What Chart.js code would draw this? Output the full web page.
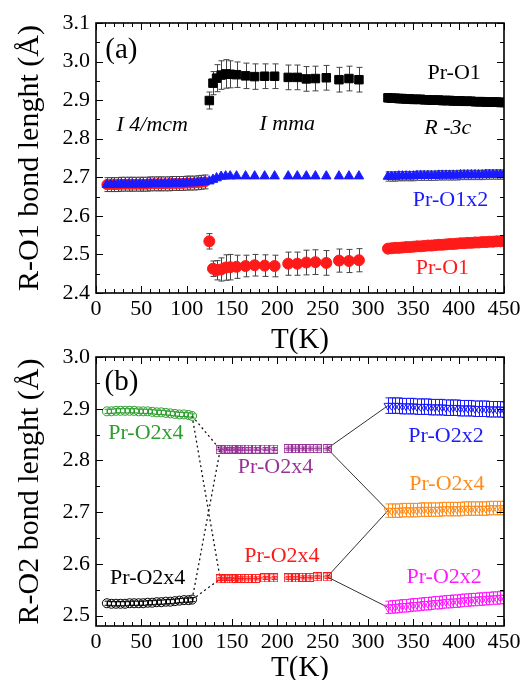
<!DOCTYPE html>
<html>
<head>
<meta charset="utf-8">
<script src="https://cdn.jsdelivr.net/npm/chart.js@4.4.0/dist/chart.umd.min.js"></script>
<style>
  html, body { margin: 0; padding: 0; background: #fff; }
  #wrap { position: relative; width: 526px; height: 680px; overflow: hidden; }
  .panel { position: absolute; left: 0; width: 526px; }
  #panelA { top: 0; height: 357px; }
  #panelB { top: 326px; height: 359px; }
</style>
</head>
<body>
<div id="wrap">
  <div class="panel" id="panelA"><canvas id="chartA"></canvas></div>
  <div class="panel" id="panelB"><canvas id="chartB"></canvas></div>
</div>
<script>
// ---- Tick labels ----
const xTicks = [0, 50, 100, 150, 200, 250, 300, 350, 400, 450];
const yTicksA = [2.4, 2.5, 2.6, 2.7, 2.8, 2.9, 3.0, 3.1];
const yTicksB = [2.5, 2.6, 2.7, 2.8, 2.9, 3.0];

// ---- Panel (a): R-O1 ----
// I4/mcm region (all three bonds coincide)
const tA_low = [12, 16, 20, 24, 28, 32, 36, 40, 44, 48, 52, 56, 60, 64, 68, 72, 76, 80, 84, 88, 92, 96, 100, 104, 108, 112, 116, 120];
const a_low = [2.681, 2.681, 2.681, 2.681, 2.682, 2.682, 2.682, 2.682, 2.682, 2.682, 2.682, 2.682, 2.683, 2.683,
               2.683, 2.683, 2.683, 2.683, 2.684, 2.684, 2.684, 2.684, 2.685, 2.685, 2.685, 2.686, 2.687, 2.688];
const a_low_err = 0.018;

// Imma region
const tA_mid = [125, 129, 133, 138, 143, 148, 155, 165, 175, 186, 197, 212, 222, 232, 242, 254, 268, 279, 290];
const a_black_mid = [2.899, 2.944, 2.957, 2.965, 2.968, 2.967, 2.966, 2.963, 2.961, 2.962, 2.962, 2.959, 2.959, 2.955, 2.956, 2.958, 2.953, 2.956, 2.953];
const a_black_mid_err = [0.022, 0.03, 0.035, 0.037, 0.037, 0.035, 0.033, 0.033, 0.033, 0.032, 0.032, 0.032, 0.032, 0.032, 0.032, 0.032, 0.032, 0.032, 0.032];
const a_red_mid = [2.534, 2.463, 2.459, 2.461, 2.466, 2.467, 2.468, 2.470, 2.472, 2.471, 2.470, 2.476, 2.476, 2.479, 2.480, 2.478, 2.484, 2.483, 2.485];
const a_red_mid_err = [0.02, 0.02, 0.025, 0.03, 0.033, 0.033, 0.03, 0.028, 0.028, 0.028, 0.028, 0.03, 0.03, 0.032, 0.032, 0.032, 0.03, 0.03, 0.03];
const a_blue_mid = [2.690, 2.694, 2.698, 2.702, 2.703, 2.703, 2.703, 2.703, 2.703, 2.703, 2.703, 2.703, 2.703, 2.703, 2.703, 2.703, 2.703, 2.703, 2.703];

// R-3c region
const tR = [322, 326, 330, 334, 338, 342, 346, 350, 354, 358, 362, 366, 370, 374, 378, 382, 386,
            390, 394, 398, 402, 406, 410, 414, 418, 422, 426, 430, 434, 438, 442, 446, 450];
const a_black_hi = [2.906, 2.905, 2.905, 2.904, 2.904, 2.903, 2.903, 2.902, 2.902, 2.902, 2.901, 2.901, 2.900, 2.900, 2.900, 2.899, 2.899,
                    2.899, 2.898, 2.898, 2.898, 2.897, 2.897, 2.897, 2.896, 2.896, 2.896, 2.895, 2.895, 2.895, 2.895, 2.894, 2.894];
const a_blue_hi = [2.702, 2.702, 2.702, 2.703, 2.703, 2.703, 2.703, 2.703, 2.704, 2.704, 2.704, 2.704, 2.704, 2.704, 2.705, 2.705, 2.705,
                   2.705, 2.705, 2.705, 2.706, 2.706, 2.706, 2.706, 2.706, 2.706, 2.706, 2.707, 2.707, 2.707, 2.707, 2.707, 2.707];
const a_red_hi = [2.515, 2.516, 2.517, 2.517, 2.518, 2.519, 2.519, 2.520, 2.521, 2.521, 2.522, 2.523, 2.523, 2.524, 2.525, 2.525, 2.526,
                  2.527, 2.527, 2.528, 2.529, 2.529, 2.530, 2.530, 2.531, 2.531, 2.532, 2.532, 2.533, 2.533, 2.534, 2.534, 2.535];

// ---- Panel (b): R-O2 ----
const tB_low = [12, 17, 22, 27, 32, 37, 42, 47, 52, 57, 62, 67, 72, 77, 82, 87, 92, 97, 102, 106];
const b_green = [2.895, 2.895, 2.896, 2.896, 2.896, 2.896, 2.896, 2.895, 2.895, 2.895, 2.894, 2.893, 2.893, 2.892, 2.891, 2.890, 2.889, 2.889, 2.888, 2.886];
const b_black = [2.524, 2.523, 2.523, 2.523, 2.523, 2.524, 2.524, 2.524, 2.524, 2.525, 2.525, 2.526, 2.526, 2.527, 2.527, 2.528, 2.529, 2.530, 2.530, 2.531];

const tB_mid = [137, 143, 149, 155, 161, 168, 176, 186, 196, 212, 220, 228, 236, 244, 255];
const b_purple = [2.821, 2.822, 2.822, 2.822, 2.822, 2.822, 2.822, 2.822, 2.822, 2.823, 2.823, 2.823, 2.823, 2.823, 2.823];
const b_red = [2.571, 2.571, 2.571, 2.572, 2.572, 2.572, 2.572, 2.573, 2.573, 2.573, 2.573, 2.574, 2.574, 2.575, 2.575];

const b_blue = [2.906, 2.906, 2.906, 2.906, 2.905, 2.905, 2.905, 2.905, 2.904, 2.904, 2.904, 2.904, 2.903, 2.903, 2.903, 2.903, 2.902,
                2.902, 2.902, 2.902, 2.901, 2.901, 2.901, 2.901, 2.900, 2.900, 2.900, 2.900, 2.899, 2.899, 2.899, 2.899, 2.898];
const b_orange = [2.703, 2.703, 2.703, 2.703, 2.704, 2.704, 2.704, 2.704, 2.704, 2.705, 2.705, 2.705, 2.705, 2.705, 2.705, 2.706, 2.706,
                  2.706, 2.706, 2.706, 2.706, 2.707, 2.707, 2.707, 2.707, 2.707, 2.707, 2.707, 2.708, 2.708, 2.708, 2.708, 2.708];
const b_magenta = [2.516, 2.517, 2.517, 2.518, 2.519, 2.519, 2.520, 2.521, 2.521, 2.522, 2.523, 2.523, 2.524, 2.525, 2.525, 2.526, 2.527,
                   2.527, 2.528, 2.528, 2.529, 2.530, 2.530, 2.531, 2.531, 2.532, 2.532, 2.533, 2.533, 2.534, 2.534, 2.535, 2.535];

// phase-transition guide lines [T, value] -> [T, value]
const bDottedLinks = [
  [[106, 2.886], [137, 2.821]], [[106, 2.886], [137, 2.571]],
  [[106, 2.531], [137, 2.821]], [[106, 2.531], [137, 2.571]]
];
const bSolidLinks = [
  [[255, 2.823], [322, 2.906]], [[255, 2.823], [322, 2.703]],
  [[255, 2.575], [322, 2.703]], [[255, 2.575], [322, 2.516]]
];

// ---- Styling ----
const SERIF = "'Liberation Serif', 'DejaVu Serif', serif";
const C = {
  black: '#000000', red: '#ff1a1a', blue: '#1a1aff', green: '#2e9e2e',
  purple: '#993399', orange: '#ff8c1a', magenta: '#ff1aff', grey: '#555555'
};

const labelsA = [
  { text: '(a)', x: 28, y: 3.030, color: C.black, size: 29 },
  { text: 'Pr-O1', x: 395, y: 2.970, color: C.black, size: 22 },
  { text: 'I 4/mcm', x: 62, y: 2.836, color: C.black, size: 22, italic: true },
  { text: 'I mma', x: 211, y: 2.838, color: C.black, size: 22, italic: true },
  { text: 'R -3c', x: 388, y: 2.828, color: C.black, size: 22, italic: true },
  { text: 'Pr-O1x2', x: 391, y: 2.641, color: C.blue, size: 22 },
  { text: 'Pr-O1', x: 382, y: 2.465, color: C.red, size: 22 }
];
const labelsB = [
  { text: '(b)', x: 28, y: 2.950, color: C.black, size: 29 },
  { text: 'Pr-O2x4', x: 55, y: 2.853, color: C.green, size: 22 },
  { text: 'Pr-O2x4', x: 57, y: 2.573, color: C.black, size: 22 },
  { text: 'Pr-O2x4', x: 198, y: 2.786, color: C.purple, size: 22 },
  { text: 'Pr-O2x4', x: 205, y: 2.614, color: C.red, size: 22 },
  { text: 'Pr-O2x2', x: 386, y: 2.847, color: C.blue, size: 22 },
  { text: 'Pr-O2x4', x: 387, y: 2.755, color: C.orange, size: 22 },
  { text: 'Pr-O2x2', x: 384, y: 2.575, color: C.magenta, size: 22 }
];

function pts(ts, vs) { return ts.map((t, i) => ({ x: t, y: vs[i] })); }

function boxPlus(color) {
  const c = document.createElement('canvas');
  c.width = 9; c.height = 9;
  const g = c.getContext('2d');
  g.strokeStyle = color; g.lineWidth = 1;
  g.strokeRect(0.5, 0.5, 8, 8);
  g.beginPath();
  g.moveTo(4.5, 0.5); g.lineTo(4.5, 8.5);
  g.moveTo(0.5, 4.5); g.lineTo(8.5, 4.5);
  g.stroke();
  return c;
}

// ---- Plugins ----
const errorBars = {
  id: 'errorBars',
  beforeDatasetsDraw(chart) {
    const { ctx, chartArea: a } = chart;
    const xs = chart.scales.x, ys = chart.scales.y;
    ctx.save();
    ctx.beginPath();
    ctx.rect(a.left, a.top, a.right - a.left, a.bottom - a.top);
    ctx.clip();
    chart.data.datasets.forEach(ds => {
      if (ds.err == null) return;
      ctx.strokeStyle = ds.errColor || '#444';
      ctx.lineWidth = 1;
      ctx.beginPath();
      ds.data.forEach((p, j) => {
        const e = Array.isArray(ds.err) ? ds.err[j] : ds.err;
        const x = Math.round(xs.getPixelForValue(p.x)) + 0.5;
        const y1 = ys.getPixelForValue(p.y - e), y2 = ys.getPixelForValue(p.y + e);
        ctx.moveTo(x, y1); ctx.lineTo(x, y2);
        ctx.moveTo(x - 3, y1); ctx.lineTo(x + 3, y1);
        ctx.moveTo(x - 3, y2); ctx.lineTo(x + 3, y2);
      });
      ctx.stroke();
    });
    ctx.restore();
  }
};

const textLabels = {
  id: 'textLabels',
  afterDatasetsDraw(chart, args, opts) {
    const { ctx } = chart;
    const xs = chart.scales.x, ys = chart.scales.y;
    ctx.save();
    ctx.textAlign = 'center';
    ctx.textBaseline = 'middle';
    (opts.items || []).forEach(l => {
      ctx.font = (l.italic ? 'italic ' : '') + l.size + 'px ' + SERIF;
      ctx.fillStyle = l.color;
      ctx.fillText(l.text, xs.getPixelForValue(l.x), ys.getPixelForValue(l.y));
    });
    ctx.restore();
  }
};

const frame = {
  id: 'frame',
  afterDraw(chart) {
    const { ctx, chartArea: a } = chart;
    const xs = chart.scales.x, ys = chart.scales.y;
    ctx.save();
    ctx.strokeStyle = '#000';
    ctx.lineWidth = 1;
    ctx.beginPath();
    for (let t = xs.min; t <= xs.max + 1e-6; t += 10) {
      const x = Math.round(xs.getPixelForValue(t)) + 0.5;
      const len = (Math.round(t) % 50 === 0) ? 7 : 4;
      ctx.moveTo(x, a.bottom); ctx.lineTo(x, a.bottom - len);
      ctx.moveTo(x, a.top); ctx.lineTo(x, a.top + len);
    }
    const start = Math.ceil(ys.min / 0.05 - 1e-6);
    for (let k = start; k * 0.05 <= ys.max + 1e-6; k++) {
      const y = Math.round(ys.getPixelForValue(k * 0.05)) + 0.5;
      const len = (k % 2 === 0) ? 7 : 4;
      ctx.moveTo(a.left, y); ctx.lineTo(a.left + len, y);
      ctx.moveTo(a.right, y); ctx.lineTo(a.right - len, y);
    }
    ctx.stroke();
    ctx.lineWidth = 1.6;
    ctx.strokeRect(a.left, a.top, a.right - a.left, a.bottom - a.top);
    ctx.restore();
  }
};

function axes(yMin, yMax, yTicks, yTitle, xHeight) {
  return {
    x: {
      type: 'linear', min: 0, max: 450,
      grid: { display: false, drawTicks: false }, border: { display: false },
      ticks: { color: '#000', font: { family: SERIF, size: 22 }, padding: 3, maxRotation: 0, autoSkip: false, callback: v => String(v) },
      afterBuildTicks: s => { s.ticks = xTicks.map(v => ({ value: v })); },
      afterFit: s => { s.height = xHeight; },
      title: { display: true, text: 'T(K)', color: '#000', font: { family: SERIF, size: 29, lineHeight: 1 }, padding: { top: 0, bottom: 2 } }
    },
    y: {
      type: 'linear', min: yMin, max: yMax,
      grid: { display: false, drawTicks: false }, border: { display: false },
      ticks: { color: '#000', font: { family: SERIF, size: 22 }, padding: 6, autoSkip: false, callback: v => v.toFixed(1) },
      afterBuildTicks: s => { s.ticks = yTicks.map(v => ({ value: v })); },
      afterFit: s => { s.width = 96; },
      title: { display: true, text: yTitle, color: '#000', font: { family: SERIF, size: 30, lineHeight: 1.2 }, padding: { top: 12, bottom: 0 } }
    }
  };
}

function baseOptions(padTop, scales, labels) {
  return {
    responsive: true,
    maintainAspectRatio: false,
    animation: false,
    devicePixelRatio: 1,
    layout: { padding: { top: padTop, right: 22, left: 0, bottom: 0 } },
    plugins: { legend: { display: false }, tooltip: { enabled: false }, textLabels: { items: labels } },
    scales
  };
}

function markers(data, style, color, radius, extra) {
  return Object.assign({
    data, pointStyle: style, pointRadius: radius, pointHoverRadius: radius,
    backgroundColor: color, borderColor: color, pointBorderWidth: 1, showLine: false
  }, extra || {});
}

// ---- Chart (a) ----
new Chart(document.getElementById('chartA'), {
  type: 'scatter',
  data: {
    datasets: [
      markers(pts(tA_low, a_low), 'triangle', C.blue, 5.5, { order: 1 }),
      markers(pts(tA_mid, a_blue_mid), 'triangle', C.blue, 5.5, { order: 1 }),
      markers(pts(tR, a_blue_hi), 'triangle', C.blue, 5.5, { order: 1, err: 0.012, errColor: '#555' }),
      markers(pts(tA_low, a_low), 'circle', C.red, 5, { order: 2 }),
      markers(pts(tA_mid, a_red_mid), 'circle', C.red, 5.5, { order: 2, err: a_red_mid_err, errColor: '#444' }),
      markers(pts(tR, a_red_hi), 'circle', C.red, 5.5, { order: 2, err: 0.005, errColor: '#222' }),
      markers(pts(tA_low, a_low), 'rect', C.black, 3, { order: 3, err: a_low_err, errColor: '#444' }),
      markers(pts(tA_mid, a_black_mid), 'rect', C.black, 6, { order: 3, err: a_black_mid_err, errColor: '#444' }),
      markers(pts(tR, a_black_hi), 'rect', C.black, 6, { order: 3, err: 0.011, errColor: '#555' })
    ]
  },
  options: baseOptions(23, axes(2.4, 3.1, yTicksA, 'R-O1 bond lenght (Å)', 64), labelsA),
  plugins: [errorBars, textLabels, frame]
});

// ---- Chart (b) ----
const linkSets = [];
bDottedLinks.forEach(l => linkSets.push({
  data: l.map(p => ({ x: p[0], y: p[1] })), showLine: true, pointRadius: 0, borderColor: '#111',
  borderWidth: 1.3, borderDash: [2, 3], order: 10
}));
bSolidLinks.forEach(l => linkSets.push({
  data: l.map(p => ({ x: p[0], y: p[1] })), showLine: true, pointRadius: 0, borderColor: '#333',
  borderWidth: 1, order: 10
}));

new Chart(document.getElementById('chartB'), {
  type: 'scatter',
  data: {
    datasets: linkSets.concat([
      markers(pts(tB_low, b_green), 'circle', C.green, 4.5, { backgroundColor: 'rgba(0,0,0,0)', err: 0.004, errColor: C.green }),
      markers(pts(tB_low, b_black), 'circle', C.black, 4.5, { backgroundColor: 'rgba(0,0,0,0)', err: 0.004, errColor: C.black }),
      markers(pts(tB_mid, b_purple), boxPlus(C.purple), C.purple, 4.5, { err: 0.003, errColor: C.purple }),
      markers(pts(tB_mid, b_red), boxPlus(C.red), C.red, 4.5, { err: 0.003, errColor: C.red }),
      markers(pts(tR, b_blue), 'triangle', C.blue, 4.5, { backgroundColor: 'rgba(0,0,0,0)', rotation: 180, err: 0.015, errColor: C.blue }),
      markers(pts(tR, b_orange), 'triangle', C.orange, 4.5, { backgroundColor: 'rgba(0,0,0,0)', rotation: 180, err: 0.013, errColor: C.orange }),
      markers(pts(tR, b_magenta), 'triangle', C.magenta, 4.5, { backgroundColor: 'rgba(0,0,0,0)', rotation: 180, err: 0.012, errColor: C.magenta })
    ])
  },
  options: baseOptions(31, axes(2.48, 3.0, yTicksB, 'R-O2 bond lenght (Å)', 59), labelsB),
  plugins: [errorBars, textLabels, frame]
});
</script>
</body>
</html>
